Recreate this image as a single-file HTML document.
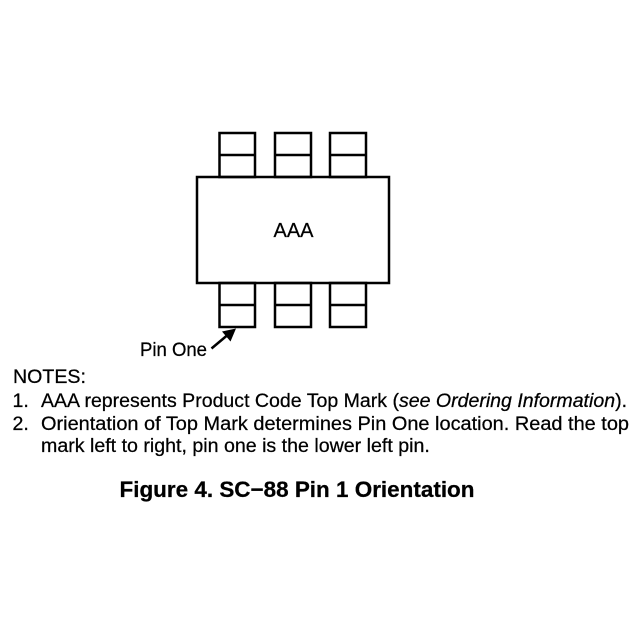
<!DOCTYPE html>
<html>
<head>
<meta charset="utf-8">
<style>
  html, body { margin: 0; padding: 0; background: #fff; }
  svg { display: block; }
  text { font-family: "Liberation Sans", Arial, Helvetica, sans-serif; fill: #000; stroke: #000; stroke-width: 0.25; }
</style>
</head>
<body>
<svg width="640" height="640" viewBox="0 0 640 640" xmlns="http://www.w3.org/2000/svg">
  <rect x="0" y="0" width="640" height="640" fill="#fff"/>
  <g fill="none" stroke="#000" stroke-width="2.5">
    <!-- body -->
    <rect x="197" y="177" width="192" height="106"/>
    <!-- top pins -->
    <rect x="219.5" y="133" width="35.5" height="44"/>
    <line x1="219.5" y1="155" x2="255" y2="155"/>
    <rect x="275" y="133" width="36" height="44"/>
    <line x1="275" y1="155" x2="311" y2="155"/>
    <rect x="330" y="133" width="36" height="44"/>
    <line x1="330" y1="155" x2="366" y2="155"/>
    <!-- bottom pins -->
    <rect x="219.5" y="283" width="35.5" height="44"/>
    <line x1="219.5" y1="305" x2="255" y2="305"/>
    <rect x="275" y="283" width="36" height="44"/>
    <line x1="275" y1="305" x2="311" y2="305"/>
    <rect x="330" y="283" width="36" height="44"/>
    <line x1="330" y1="305" x2="366" y2="305"/>
    <!-- arrow shaft -->
    <line x1="211.5" y1="348.5" x2="227" y2="335.5"/>
  </g>
  <!-- arrowhead -->
  <polygon points="236,328.5 222,331.5 230.5,341.5" fill="#000"/>

  <text x="293.5" y="237" font-size="20" text-anchor="middle">AAA</text>
  <text x="140" y="356" font-size="19" textLength="67" lengthAdjust="spacingAndGlyphs">Pin One</text>

  <text x="13" y="383" font-size="19.6">NOTES:</text>
  <text x="12.5" y="407" font-size="19.6">1.</text>
  <text x="41" y="407" font-size="19.6" textLength="586" lengthAdjust="spacingAndGlyphs">AAA represents Product Code Top Mark (<tspan font-style="italic">see Ordering Information</tspan>).</text>
  <text x="12.5" y="430" font-size="19.6">2.</text>
  <text x="41" y="430" font-size="19.6" textLength="588" lengthAdjust="spacingAndGlyphs">Orientation of Top Mark determines Pin One location. Read the top</text>
  <text x="41" y="452" font-size="19.6">mark left to right, pin one is the lower left pin.</text>

  <text x="119.5" y="497" font-size="22.4" font-weight="bold" textLength="355" lengthAdjust="spacingAndGlyphs">Figure 4. SC−88 Pin 1 Orientation</text>
</svg>
</body>
</html>
